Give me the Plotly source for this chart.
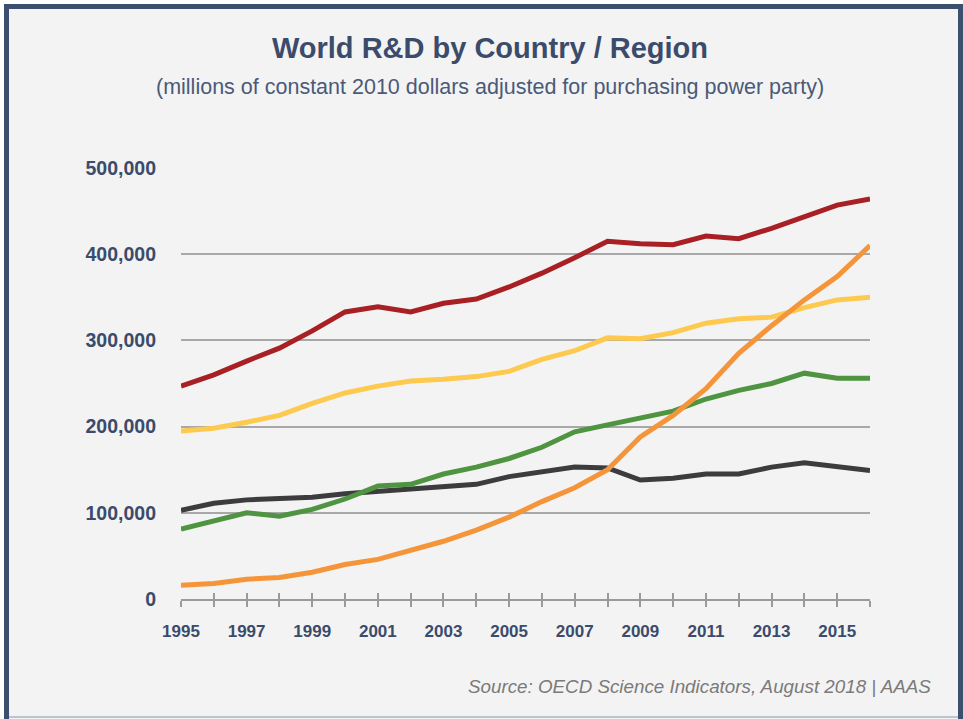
import plotly.graph_objects as go

years = list(range(1995, 2017))

# values in thousands of millions of dollars
us = [247, 260, 276, 291, 311, 333, 339, 333, 343, 348, 362, 378, 396, 415,
      412, 411, 421, 418, 430, 443, 457, 464]
eu = [195, 198, 205, 213, 227, 239, 247, 253, 255, 258, 264, 278, 288, 303,
      302, 309, 320, 325, 327, 338, 347, 350]
china = [16, 18, 23, 25, 31, 40, 46, 57, 67, 80, 95, 113, 129, 150,
         188, 213, 244, 285, 317, 347, 374, 410]
other = [81, 90, 100, 96, 104, 116, 131, 133, 145, 153, 163, 176, 194, 202,
         210, 218, 232, 242, 250, 262, 256, 256]
japan = [103, 111, 115, 117, 118, 122, 125, 127, 131, 133, 142, 147, 153, 152,
         138, 140, 145, 145, 153, 158, 154, 149]

series = [
    ("Japan", japan, "#3c3c3e"),
    ("Other", other, "#4f9440"),
    ("EU", eu, "#fdc94f"),
    ("United States", us, "#a81f24"),
    ("China", china, "#f5953a"),
]

text_col = "#3b4b6b"
font = "Liberation Sans, Arial, sans-serif"

fig = go.Figure()
for name, vals, col in series:
    fig.add_trace(go.Scatter(x=years, y=[v * 1000 for v in vals], name=name,
                             mode="lines", line=dict(color=col, width=5)))

# invisible trace so the overlay axis (inner half of the tick marks) is drawn
fig.add_trace(go.Scatter(x=[1995], y=[0], xaxis="x2", mode="lines",
                         showlegend=False, hoverinfo="skip", opacity=0))

fig.update_layout(
    width=963, height=719,
    margin=dict(l=181, r=93, t=168, b=120),
    paper_bgcolor="white", plot_bgcolor="#f3f3f3",
    showlegend=False,
    font=dict(family=font, color=text_col),
    title=dict(text="<b>World R&D by Country / Region</b>",
               x=490 / 963, xref="container", y=1 - 48 / 719, yanchor="middle",
               font=dict(size=29, color=text_col)),
    xaxis=dict(range=[1995, 2016], tickvals=years,
               ticktext=[str(y) if y % 2 else "" for y in years],
               ticks="outside", ticklen=6, tickwidth=1.5, tickcolor="#9a9a9a",
               showline=True, linecolor="#9a9a9a", linewidth=1.5,
               showgrid=False, zeroline=False, ticklabelstandoff=10,
               tickfont=dict(size=17, color=text_col, weight="bold")),
    xaxis2=dict(range=[1995, 2016], overlaying="x", side="bottom",
                tickvals=years, ticks="inside", ticklen=6, tickwidth=1.5,
                tickcolor="#9a9a9a", showticklabels=False, showgrid=False,
                zeroline=False),
    yaxis=dict(range=[0, 500000], tickvals=[0, 100000, 200000, 300000, 400000, 500000],
               tickformat=",d", showgrid=True, gridcolor="#a8a8a8", gridwidth=1.5,
               zeroline=False, showline=False, ticks="", ticklabelstandoff=24,
               tickfont=dict(size=19.5, color=text_col, weight="bold")),
    hovermode="x",
)

fig.add_annotation(
    text="(millions of constant 2010 dollars adjusted for purchasing power party)",
    x=(490 - 181) / 689, y=(599 - 87) / 431, xref="paper", yref="paper",
    yanchor="middle", showarrow=False, font=dict(size=21.5, color="#4a5a78"))

fig.add_annotation(
    text="<i>Source: OECD Science Indicators, August 2018 | AAAS</i>",
    x=(933 - 181) / 689, y=(599 - 686) / 431, xref="paper", yref="paper",
    xanchor="right", yanchor="middle", showarrow=False,
    font=dict(size=18.8, color="#7a7a7a"))

# frame round the whole card
fig.add_shape(type="rect", xref="paper", yref="paper", layer="below",
              x0=(6.5 - 181) / 689, x1=(960.5 - 181) / 689,
              y0=(599 - 730) / 431, y1=(599 - 6.5) / 431,
              line=dict(color="#3d4f6e", width=5), fillcolor="#f3f3f3")
fig.add_shape(type="line", xref="paper", yref="paper",
              x0=(9 - 181) / 689, x1=(958 - 181) / 689,
              y0=(599 - 717) / 431, y1=(599 - 717) / 431,
              line=dict(color="#aab5c8", width=1.5))

fig.write_html("out.html", config={"displayModeBar": False},
               post_script="document.body.style.margin='0';")
